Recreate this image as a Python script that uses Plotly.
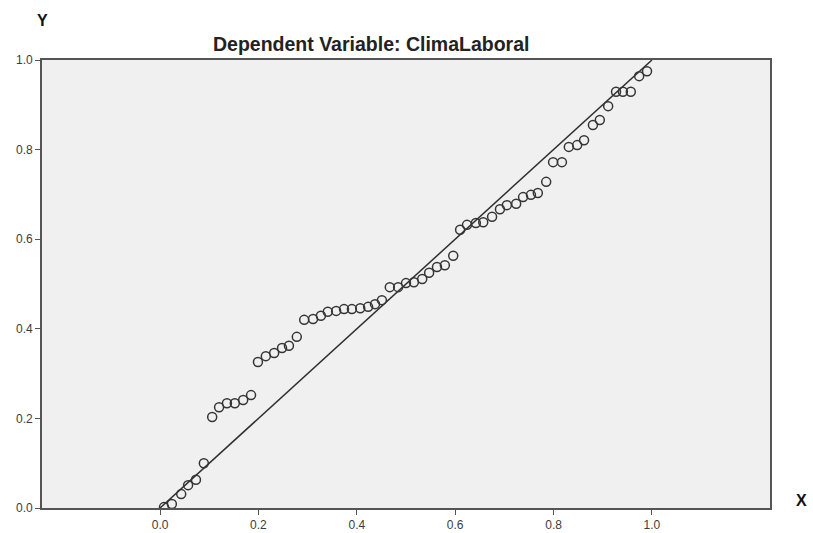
import plotly.graph_objects as go

# Observed cumulative probability (x) vs expected cumulative probability (y)
obs_cum_prob = [0.008, 0.024, 0.043, 0.057, 0.073, 0.089, 0.106, 0.120, 0.136, 0.152,
                0.169, 0.185, 0.199, 0.215, 0.232, 0.248, 0.262, 0.278, 0.293, 0.311,
                0.327, 0.341, 0.358, 0.374, 0.390, 0.407, 0.423, 0.437, 0.451, 0.467,
                0.484, 0.500, 0.516, 0.533, 0.547, 0.563, 0.579, 0.596, 0.610, 0.624,
                0.642, 0.657, 0.675, 0.691, 0.705, 0.724, 0.738, 0.754, 0.768, 0.785,
                0.799, 0.817, 0.831, 0.848, 0.862, 0.880, 0.894, 0.911, 0.927, 0.941,
                0.957, 0.974, 0.990]
exp_cum_prob = [0.002, 0.009, 0.031, 0.051, 0.063, 0.100, 0.203, 0.225, 0.234, 0.234,
                0.241, 0.252, 0.326, 0.339, 0.346, 0.357, 0.362, 0.382, 0.420, 0.422,
                0.429, 0.438, 0.440, 0.444, 0.444, 0.446, 0.449, 0.455, 0.464, 0.493,
                0.493, 0.502, 0.504, 0.511, 0.525, 0.538, 0.542, 0.563, 0.621, 0.632,
                0.636, 0.638, 0.650, 0.667, 0.676, 0.679, 0.694, 0.699, 0.703, 0.728,
                0.772, 0.772, 0.806, 0.810, 0.821, 0.855, 0.866, 0.897, 0.929, 0.929,
                0.929, 0.964, 0.975]
ref_line_x = [0.0, 1.0]
ref_line_y = [0.0, 1.0]
tick_vals = [0.0, 0.2, 0.4, 0.6, 0.8, 1.0]
tick_text = ["0.0", "0.2", "0.4", "0.6", "0.8", "1.0"]

fig = go.Figure()
fig.add_trace(go.Scatter(x=ref_line_x, y=ref_line_y, mode="lines",
                         line=dict(color="#2e2e2e", width=1.5),
                         hoverinfo="skip", showlegend=False))
fig.add_trace(go.Scatter(x=obs_cum_prob, y=exp_cum_prob, mode="markers",
                         marker=dict(symbol="circle-open", size=9,
                                     color="#353535", line=dict(width=1.5)),
                         showlegend=False))

W, H = 813, 533
L, R, T, B = 42, 43, 60, 25
FONT = "Liberation Sans, Arial, sans-serif"

fig.update_layout(
    width=W, height=H,
    margin=dict(l=L, r=R, t=T, b=B, autoexpand=False),
    paper_bgcolor="white",
    plot_bgcolor="#f0f0f0",
    font=dict(family=FONT, size=12, color="#3c3c3c"),
    xaxis=dict(range=[-0.24, 1.24], tickvals=tick_vals, ticktext=tick_text,
               showgrid=False, zeroline=False, showline=True, mirror=True,
               linecolor="#555555", linewidth=1.6, ticks="outside", ticklen=5,
               tickcolor="#555555", tickwidth=1.3, automargin=False),
    yaxis=dict(range=[0, 1], tickvals=tick_vals, ticktext=tick_text,
               showgrid=False, zeroline=False, showline=True, mirror=True,
               linecolor="#555555", linewidth=1.6, ticks="outside", ticklen=5,
               tickcolor="#555555", tickwidth=1.3, automargin=False),
    annotations=[
        dict(text="<b>Dependent Variable: ClimaLaboral</b>", xref="paper", yref="paper",
             x=(371 - L) / (W - L - R), y=1 + (60 - 44) / (H - T - B),
             xanchor="center", yanchor="middle", showarrow=False,
             font=dict(size=19.5, color="#222222", family=FONT)),
        dict(text="<b>Y</b>", xref="paper", yref="paper",
             x=(42 - L) / (W - L - R), y=1 + (60 - 20) / (H - T - B),
             xanchor="center", yanchor="middle", showarrow=False,
             font=dict(size=16, color="#111111", family=FONT)),
        dict(text="<b>X</b>", xref="paper", yref="paper",
             x=1 + (801 - (W - R)) / (W - L - R), y=(508 - 500) / (H - T - B),
             xanchor="center", yanchor="middle", showarrow=False,
             font=dict(size=16, color="#111111", family=FONT)),
    ],
)

fig.write_html("out.html", config={"displayModeBar": False},
               post_script="document.body.style.margin='0px';")
